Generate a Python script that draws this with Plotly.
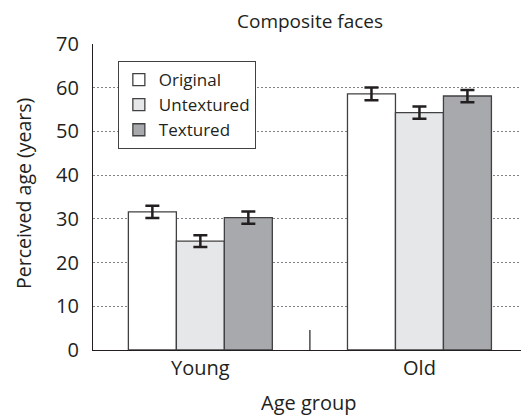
import plotly.graph_objects as go

groups = ["Young", "Old"]
series = ["Original", "Untextured", "Textured"]
values = {
    "Original": [31.6, 58.6],
    "Untextured": [24.9, 54.3],
    "Textured": [30.3, 58.1],
}
errors = {
    "Original": [1.4, 1.45],
    "Untextured": [1.35, 1.4],
    "Textured": [1.4, 1.4],
}
colors = {"Original": "#ffffff", "Untextured": "#e6e7e8", "Textured": "#a7a9ac"}
yticks = [0, 10, 20, 30, 40, 50, 60, 70]

FONT = "'Open Sans', sans-serif"
TXT = "#231f20"

fig = go.Figure()
for s in series:
    fig.add_trace(go.Bar(
        name=s, x=groups, y=values[s],
        marker=dict(color=colors[s], line=dict(color="#414042", width=1.3)),
        error_y=dict(type="data", array=errors[s], visible=True,
                     color=TXT, thickness=2.5, width=7),
    ))

fig.add_shape(type="line", xref="x", yref="y", x0=0.5, x1=0.5, y0=0, y1=4.6,
              line=dict(color=TXT, width=1.2))

# page offset of 8px (default body margin) is accounted for in the margins
PLOT_H = 306
PLOT_W = 436
fig.add_annotation(text="Composite faces", xref="paper", yref="paper",
                   x=(310 - 93) / PLOT_W, y=(350 - 20.5) / PLOT_H,
                   xanchor="center", yanchor="middle", showarrow=False,
                   font=dict(family=FONT, size=19, color=TXT))
fig.add_annotation(text="Age group", xref="paper", yref="paper",
                   x=(309 - 93) / PLOT_W, y=-(402 - 350) / PLOT_H,
                   xanchor="center", yanchor="middle", showarrow=False,
                   font=dict(family=FONT, size=20, color=TXT))
fig.add_annotation(text="Perceived age (years)", xref="paper", yref="paper",
                   x=(23 - 93) / PLOT_W, y=(350 - 194) / PLOT_H, textangle=-90,
                   xanchor="center", yanchor="middle", showarrow=False,
                   font=dict(family=FONT, size=19.5, color=TXT))

fig.update_layout(
    width=529, height=418,
    margin=dict(l=85, r=8, t=36, b=76, autoexpand=False),
    paper_bgcolor="white", plot_bgcolor="white",
    barmode="group", bargap=0.343, bargroupgap=0,
    font=dict(family=FONT, size=20, color=TXT),
    legend=dict(x=0.057, y=(350 - 61) / PLOT_H, xanchor="left", yanchor="top",
                bgcolor="white", bordercolor="#414042", borderwidth=1,
                font=dict(family=FONT, size=17, color=TXT),
                itemwidth=30, tracegroupgap=0),
    showlegend=True,
)
fig.update_xaxes(
    range=[-0.49, 1.5], showline=True, linecolor=TXT, linewidth=1.2,
    showgrid=False, ticks="", ticklabelstandoff=0, automargin=False,
    tickfont=dict(family=FONT, size=20, color=TXT),
)
fig.update_yaxes(
    range=[0, 70], tickvals=yticks, showline=True, linecolor=TXT, linewidth=1.2,
    showgrid=True, gridcolor="#808285", griddash="2px,2px", gridwidth=1,
    zeroline=False, ticks="", ticklabelstandoff=9, automargin=False,
    tickfont=dict(family=FONT, size=20, color=TXT),
)

fig.write_html("out.html")
